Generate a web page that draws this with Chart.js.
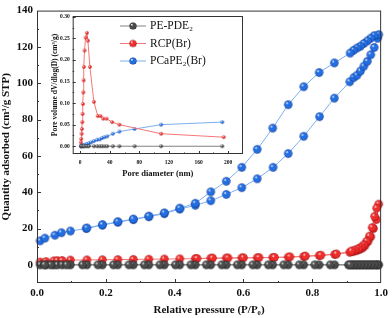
<!DOCTYPE html>
<html>
<head>
<meta charset="utf-8">
<script src="https://cdn.jsdelivr.net/npm/chart.js@4.4.1/dist/chart.umd.min.js"></script>
<style>
  html, body { margin: 0; padding: 0; background: #fff; }
  #wrap { position: relative; width: 392px; height: 318px; }
  #wrap canvas { position: absolute; left: 0; top: 0; }
</style>
</head>
<body>
<div id="wrap">
  <canvas id="main" width="392" height="318"></canvas>
  <canvas id="inset" width="392" height="318"></canvas>
</div>
<script>
// series names
const seriesNames = ['PE-PDE₂', 'RCP(Br)', 'PCaPE₂(Br)'];

// isotherms: relative pressure (P/P0) and quantity adsorbed, adsorption then desorption
const peP = [0.009, 0.026, 0.049, 0.059, 0.073, 0.097, 0.145, 0.19, 0.235, 0.28, 0.325, 0.37, 0.415, 0.46, 0.505, 0.55, 0.595, 0.64, 0.685, 0.73, 0.775, 0.82, 0.865, 0.905, 0.915, 0.925, 0.935, 0.945, 0.955, 0.965, 0.975, 0.985, 0.993,
  0.99, 0.98, 0.97, 0.96, 0.95, 0.94, 0.93, 0.92, 0.91, 0.852, 0.807, 0.762, 0.717, 0.672, 0.627, 0.582, 0.537, 0.492, 0.447, 0.402, 0.357, 0.312, 0.267, 0.222, 0.177, 0.132, 0.086, 0.04, 0.022];
const peQ = [0, 0, 0, 0, 0, 0, 0, 0, 0, 0, 0, 0, 0, 0, 0, 0, 0, 0, 0, 0, 0, 0, 0, 0, 0, 0, 0, 0, 0, 0, 0, 0, 0,
  0, 0, 0, 0, 0, 0, 0, 0, 0, 0, 0, 0, 0, 0, 0, 0, 0, 0, 0, 0, 0, 0, 0, 0, 0, 0, 0, 0, 0];

const rcpP = [0.009, 0.026, 0.049, 0.059, 0.073, 0.097, 0.145, 0.19, 0.235, 0.28, 0.325, 0.37, 0.415, 0.46, 0.505, 0.55, 0.595, 0.64, 0.685, 0.73, 0.775, 0.82, 0.865, 0.909, 0.919, 0.929, 0.938, 0.946, 0.953, 0.962, 0.970, 0.978, 0.986, 0.993,
  0.987, 0.981, 0.974, 0.966, 0.958, 0.950, 0.942, 0.934, 0.924, 0.914, 0.87, 0.825, 0.78, 0.735, 0.69, 0.645, 0.6, 0.555, 0.51, 0.465];
const rcpQ = [1.5, 1.8, 2.2, 2.3, 2.4, 2.6, 2.7, 2.8, 2.9, 3.0, 3.1, 3.2, 3.3, 3.4, 3.6, 3.7, 3.8, 3.9, 4.0, 4.2, 4.6, 5.1, 5.7, 6.9, 7.3, 7.8, 8.5, 9.3, 10.5, 12.8, 15.4, 20.0, 24.9, 33.4,
  31.2, 26.7, 20.5, 15.8, 13.0, 11.0, 9.8, 8.9, 8.2, 7.6, 6.0, 5.3, 4.8, 4.4, 4.1, 4.0, 3.9, 3.8, 3.7, 3.5];

const pcaP = [0.009, 0.023, 0.052, 0.071, 0.097, 0.143, 0.19, 0.235, 0.28, 0.325, 0.37, 0.415, 0.46, 0.505, 0.55, 0.595, 0.64, 0.686, 0.73, 0.775, 0.821, 0.864, 0.909, 0.921, 0.93, 0.94, 0.95, 0.96, 0.97, 0.98, 0.99, 0.993,
  0.98, 0.97, 0.96, 0.95, 0.94, 0.93, 0.92, 0.91, 0.864, 0.82, 0.775, 0.73, 0.685, 0.64, 0.595, 0.55, 0.505, 0.46, 0.415, 0.37, 0.325, 0.28, 0.235, 0.19, 0.145];
const pcaQ = [13.2, 14.7, 16.3, 17.7, 18.6, 20.0, 21.9, 23.5, 24.9, 26.5, 28.2, 30.7, 32.8, 35.3, 38.8, 42.5, 47.4, 53.7, 61.3, 70.8, 81.6, 91.8, 100.8, 103.2, 104.4, 106.7, 109.4, 112.1, 115.7, 119.7, 124.8, 126.8,
  126.2, 124.8, 123.3, 121.9, 120.4, 119.4, 118.1, 116.6, 111.2, 105.9, 98.1, 88.2, 75.3, 63.6, 53.7, 46.0, 40.2, 33.9, 31.2, 28.6, 26.8, 25.2, 23.7, 22.1, 20.3];

// inset: pore size distribution, pore diameter (nm) and dV/dlog(D)
const peD = [1.1, 2.0, 3.4, 5.1, 7.4, 9.6, 11.8, 18.6, 23.0, 26.6, 29.7, 32.9, 36.5, 44.1, 53.0, 73.6, 109.4, 192];
const peV = [0.000, 0.000, 0.000, 0.000, 0.000, 0.000, 0.000, 0.000, 0.000, 0.000, 0.000, 0.000, 0.000, 0.000, 0.000, 0.000, 0.000, 0.000];

const rcpD = [1.1, 1.5, 2.0, 2.4, 2.9, 3.3, 3.8, 4.3, 4.7, 5.1, 6.0, 7.4, 9.2, 10.5, 13.2, 18.6, 23.9, 27.5, 31.1, 35.6, 43.2, 53.0, 109.4, 194];
const rcpV = [0.009, 0.017, 0.029, 0.040, 0.056, 0.075, 0.098, 0.125, 0.153, 0.184, 0.222, 0.252, 0.263, 0.245, 0.184, 0.103, 0.070, 0.070, 0.064, 0.064, 0.056, 0.050, 0.029, 0.021];

const pcaD = [1.1, 2.0, 3.4, 5.1, 7.4, 9.6, 11.8, 14.9, 18.6, 23.0, 26.6, 29.7, 32.9, 36.5, 44.1, 53.0, 73.6, 109.4, 192];
const pcaV = [0.000, 0.002, 0.002, 0.003, 0.004, 0.005, 0.007, 0.009, 0.012, 0.015, 0.016, 0.019, 0.021, 0.023, 0.029, 0.034, 0.040, 0.050, 0.056];

// tick labels
const xTicks = [0, 0.2, 0.4, 0.6, 0.8, 1.0];
const yTicks = [0, 20, 40, 60, 80, 100, 120, 140];
const insetXTicks = [0, 40, 80, 120, 160, 200];
const insetYTicks = [0, 0.05, 0.10, 0.15, 0.20, 0.25, 0.30];

const FONT = "'Liberation Serif', 'Times New Roman', serif";
const colors = [
  { base: 'rgb(75,75,75)', dark: 'rgb(25,25,25)', line: 'rgb(130,130,130)' },
  { base: 'rgb(240,45,45)', dark: 'rgb(150,10,10)', line: 'rgb(246,120,120)' },
  { base: 'rgb(35,110,225)', dark: 'rgb(10,50,140)', line: 'rgb(125,175,240)' }
];

function ball(r, base, dark) {
  const c = document.createElement('canvas');
  const s = Math.ceil(r * 2) + 2;
  c.width = c.height = s;
  const g = c.getContext('2d');
  const m = s / 2;
  const grd = g.createRadialGradient(m - r * 0.35, m - r * 0.4, r * 0.05, m, m, r);
  grd.addColorStop(0, '#ffffff');
  grd.addColorStop(0.3, base);
  grd.addColorStop(0.8, base);
  grd.addColorStop(1, dark);
  g.fillStyle = grd;
  g.beginPath();
  g.arc(m, m, r, 0, Math.PI * 2);
  g.fill();
  return c;
}

const pts = (xs, ys) => xs.map((x, i) => ({ x: x, y: ys[i] }));

// box + inward ticks
const frame = {
  id: 'frame',
  afterDraw(chart, args, opts) {
    const { ctx, chartArea: a } = chart;
    ctx.save();
    ctx.strokeStyle = '#333';
    ctx.lineWidth = 1;
    ctx.strokeRect(a.left + 0.5, a.top + 0.5, a.right - a.left - 1, a.bottom - a.top - 1);
    ['x', 'y'].forEach(id => {
      const s = chart.scales[id];
      const t = s.ticks.map(k => k.value);
      const marks = [];
      t.forEach((v, i) => {
        marks.push([v, opts.major]);
        if (i < t.length - 1) marks.push([(v + t[i + 1]) / 2, opts.minor]);
      });
      ctx.beginPath();
      marks.forEach(([v, len]) => {
        const p = Math.round(s.getPixelForValue(v)) + 0.5;
        if (id === 'x') {
          if (p <= a.left + 1 || p >= a.right - 1) return;
          ctx.moveTo(p, a.bottom);
          ctx.lineTo(p, a.bottom - len);
        } else {
          if (p <= a.top + 1 || p >= a.bottom - 1) return;
          ctx.moveTo(a.left, p);
          ctx.lineTo(a.left + len, p);
        }
      });
      ctx.stroke();
    });
    ctx.restore();
  }
};

const whiteArea = {
  id: 'whiteArea',
  beforeDraw(chart) {
    const { ctx, chartArea: a } = chart;
    ctx.save();
    ctx.fillStyle = '#fff';
    ctx.fillRect(a.left, a.top, a.right - a.left, a.bottom - a.top);
    ctx.restore();
  }
};

const insetLegend = {
  id: 'insetLegend',
  afterDraw(chart) {
    const ctx = chart.ctx;
    ctx.save();
    ctx.font = '11.5px ' + FONT;
    ctx.textBaseline = 'middle';
    ctx.fillStyle = '#111';
    seriesNames.forEach((name, i) => {
      const y = 26 + i * 17.5;
      ctx.strokeStyle = colors[i].line;
      ctx.lineWidth = 1;
      ctx.beginPath();
      ctx.moveTo(120, y);
      ctx.lineTo(146, y);
      ctx.stroke();
      const b = ball(3.6, colors[i].base, colors[i].dark);
      ctx.drawImage(b, 133 - b.width / 2, y - b.height / 2);
      ctx.fillText(name, 150, y);
    });
    ctx.restore();
  }
};

function mainSet(i, xs, ys) {
  return {
    label: seriesNames[i],
    data: pts(xs, ys),
    borderColor: colors[i].line,
    borderWidth: 1,
    pointStyle: ball(4.2, colors[i].base, colors[i].dark),
    showLine: true,
    clip: false
  };
}

function insetSet(i, xs, ys) {
  return {
    label: seriesNames[i],
    data: pts(xs, ys),
    borderColor: colors[i].line,
    borderWidth: 1,
    pointStyle: ball(1.8, colors[i].base, colors[i].dark),
    showLine: true
  };
}

const tickFont = { family: FONT, weight: 'bold', size: 11 };

new Chart(document.getElementById('main'), {
  type: 'scatter',
  data: {
    datasets: [mainSet(0, peP, peQ), mainSet(1, rcpP, rcpQ), mainSet(2, pcaP, pcaQ)]
  },
  options: {
    responsive: false,
    animation: false,
    devicePixelRatio: 1,
    layout: { padding: { left: 0, right: 9, top: 5, bottom: 0 } },
    plugins: { legend: { display: false }, tooltip: { enabled: false }, frame: { major: 4, minor: 2 } },
    scales: {
      x: {
        type: 'linear', min: 0, max: 1,
        afterBuildTicks: s => { s.ticks = xTicks.map(v => ({ value: v })); },
        afterFit: s => { s.height = 35; },
        grid: { display: false, drawTicks: false },
        border: { display: false },
        ticks: { font: tickFont, color: '#111', padding: 4, callback: v => v.toFixed(1) },
        title: { display: true, text: 'Relative pressure (P/P₀)', font: tickFont, color: '#111', padding: { top: 0, bottom: 1 } }
      },
      y: {
        type: 'linear', min: -10, max: 140,
        afterBuildTicks: s => { s.ticks = yTicks.map(v => ({ value: v })); },
        afterFit: s => { s.width = 37; },
        grid: { display: false, drawTicks: false },
        border: { display: false },
        ticks: { font: tickFont, color: '#111', padding: 4 },
        title: { display: true, text: 'Quantity adsorbed (cm³/g STP)', font: tickFont, color: '#111', padding: { top: 0, bottom: 0 } }
      }
    }
  },
  plugins: [frame]
});

const smallTick = { family: FONT, weight: 'bold', size: 5.5 };

new Chart(document.getElementById('inset'), {
  type: 'scatter',
  data: {
    datasets: [insetSet(0, peD, peV), insetSet(1, rcpD, rcpV), insetSet(2, pcaD, pcaV)]
  },
  options: {
    responsive: false,
    animation: false,
    devicePixelRatio: 1,
    layout: { padding: { left: 48, right: 149, top: 16, bottom: 138.9 } },
    plugins: { legend: { display: false }, tooltip: { enabled: false }, frame: { major: 3, minor: 1.5 } },
    scales: {
      x: {
        type: 'linear', min: -10, max: 220,
        afterBuildTicks: s => { s.ticks = insetXTicks.map(v => ({ value: v })); },
        afterFit: s => { s.height = 25.1; },
        grid: { display: false, drawTicks: false },
        border: { display: false },
        ticks: { font: smallTick, color: '#111', padding: 5 },
        title: { display: true, text: 'Pore diameter (nm)', font: { family: FONT, weight: 'bold', size: 8.5 }, color: '#111', padding: { top: 0, bottom: 0 } }
      },
      y: {
        type: 'linear', min: -0.018, max: 0.302,
        afterBuildTicks: s => { s.ticks = insetYTicks.map(v => ({ value: v })); },
        afterFit: s => { s.width = 24.7; },
        grid: { display: false, drawTicks: false },
        border: { display: false },
        ticks: { font: smallTick, color: '#111', padding: 3, callback: v => v.toFixed(2) },
        title: { display: true, text: 'Pore volume dV/dlog(D) (cm³/g)', font: { family: FONT, weight: 'bold', size: 7.5 }, color: '#111', padding: { top: 2.5, bottom: 0 } }
      }
    }
  },
  plugins: [whiteArea, frame, insetLegend]
});
</script>
</body>
</html>
